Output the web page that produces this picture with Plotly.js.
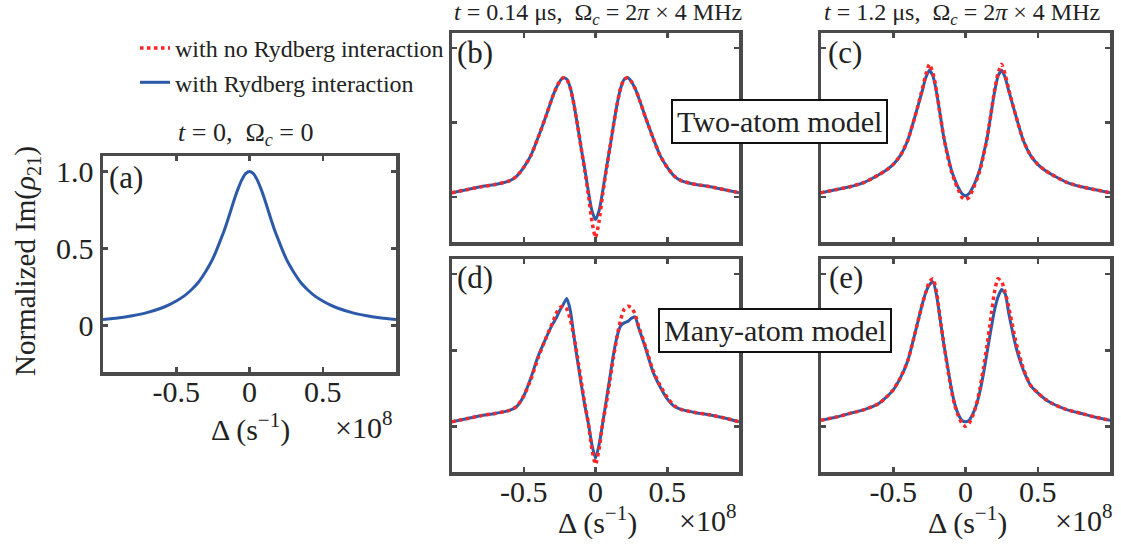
<!DOCTYPE html>
<html>
<head>
<meta charset="utf-8">
<script src="https://cdn.plot.ly/plotly-3.0.1.min.js"></script>
<style>html,body{margin:0;padding:0;background:#fff;}</style>
</head>
<body>
<div id="chart" style="width:1121px;height:544px;"></div>
<script>
// ---- data (detuning in units of 1e8 s^-1) ----
const delta = [-1,-0.9,-0.8,-0.7,-0.6,-0.55,-0.5,-0.45,-0.4,-0.35,-0.3,-0.275,-0.25,-0.225,-0.2,-0.175,-0.15,-0.125,-0.1,-0.075,-0.05,-0.025,0,
               0.025,0.05,0.075,0.1,0.125,0.15,0.175,0.2,0.225,0.25,0.275,0.3,0.35,0.4,0.45,0.5,0.55,0.6,0.7,0.8,0.9,1];

// (a) t = 0, Omega_c = 0
const aBlue = [0.04,0.05,0.065,0.085,0.115,0.135,0.16,0.19,0.23,0.28,0.35,0.39,0.435,0.49,0.55,0.61,0.68,0.755,0.83,0.895,0.95,0.987,1.0,
               0.987,0.95,0.895,0.83,0.755,0.68,0.61,0.55,0.49,0.435,0.39,0.35,0.28,0.23,0.19,0.16,0.135,0.115,0.085,0.065,0.05,0.04];

// (b) two-atom, t = 0.14 us
const bBlue = [0.03,0.05,0.07,0.085,0.11,0.14,0.20,0.28,0.40,0.53,0.67,0.73,0.775,0.80,0.79,0.73,0.62,0.48,0.33,0.19,0.04,-0.09,-0.15,
               -0.09,0.04,0.19,0.33,0.48,0.62,0.73,0.79,0.80,0.775,0.73,0.67,0.53,0.40,0.28,0.20,0.14,0.11,0.085,0.07,0.05,0.03];
const bRed  = [0.03,0.05,0.07,0.085,0.11,0.14,0.20,0.28,0.40,0.53,0.67,0.73,0.775,0.80,0.79,0.73,0.62,0.48,0.33,0.18,0.02,-0.16,-0.27,
               -0.16,0.02,0.18,0.33,0.48,0.62,0.73,0.79,0.80,0.775,0.73,0.67,0.53,0.40,0.28,0.20,0.14,0.11,0.085,0.07,0.05,0.03];

// (c) two-atom, t = 1.2 us
const cBlue = [0.03,0.05,0.07,0.10,0.15,0.18,0.22,0.28,0.38,0.54,0.71,0.80,0.85,0.81,0.70,0.55,0.40,0.29,0.19,0.12,0.065,0.025,0.01,
               0.025,0.065,0.12,0.19,0.29,0.40,0.55,0.70,0.81,0.85,0.80,0.71,0.54,0.38,0.28,0.22,0.18,0.15,0.10,0.07,0.05,0.03];
const cRed  = [0.03,0.05,0.07,0.10,0.15,0.18,0.22,0.28,0.38,0.54,0.72,0.82,0.89,0.83,0.71,0.55,0.40,0.28,0.18,0.11,0.05,0.0,-0.015,
               0.0,0.05,0.11,0.18,0.28,0.40,0.55,0.71,0.83,0.89,0.82,0.72,0.54,0.38,0.28,0.22,0.18,0.15,0.10,0.07,0.05,0.03];

// (d) many-atom, t = 0.14 us
const dBlue = [0.03,0.05,0.07,0.085,0.105,0.13,0.20,0.32,0.46,0.57,0.67,0.71,0.76,0.80,0.84,0.76,0.59,0.43,0.28,0.14,0.02,-0.12,-0.21,
               -0.12,0.02,0.17,0.32,0.47,0.59,0.66,0.68,0.69,0.71,0.72,0.65,0.51,0.36,0.26,0.18,0.13,0.11,0.09,0.075,0.055,0.03];
const dRed  = [0.03,0.05,0.07,0.085,0.105,0.13,0.20,0.31,0.45,0.57,0.68,0.74,0.78,0.79,0.77,0.70,0.59,0.45,0.30,0.15,0.02,-0.15,-0.25,
               -0.15,0.02,0.15,0.30,0.45,0.59,0.70,0.77,0.79,0.78,0.74,0.66,0.52,0.37,0.27,0.19,0.135,0.11,0.09,0.075,0.055,0.03];

// (e) many-atom, t = 1.2 us
const eBlue = [0.04,0.06,0.085,0.11,0.15,0.19,0.24,0.32,0.43,0.61,0.80,0.88,0.93,0.95,0.86,0.70,0.54,0.40,0.26,0.15,0.08,0.04,0.03,
               0.04,0.08,0.14,0.23,0.35,0.49,0.63,0.76,0.85,0.90,0.87,0.74,0.52,0.37,0.27,0.22,0.18,0.15,0.11,0.085,0.06,0.04];
const eRed  = [0.04,0.06,0.085,0.11,0.15,0.19,0.24,0.32,0.43,0.61,0.80,0.88,0.95,0.97,0.88,0.71,0.54,0.39,0.25,0.14,0.07,0.02,0.0,
               0.02,0.07,0.14,0.25,0.39,0.54,0.71,0.88,0.97,0.95,0.88,0.78,0.55,0.38,0.27,0.22,0.18,0.15,0.11,0.085,0.06,0.04];

const xTickVals = [-0.5, 0, 0.5];
const xTickText = ['-0.5', '0', '0.5'];
const yTickVals = [0, 0.5, 1];
const yTickText = ['0', '0.5', '1.0'];
const legendNames = ['with no Rydberg interaction', 'with Rydberg interaction'];

// ---- styling ----
const W = 1121, H = 544;
const FONT = '"Liberation Serif", "Times New Roman", serif';
const BLUE = '#2c5aa8', RED = '#ff2626', FRAME = '#4a4a4a';
const px = v => v / W, py = v => 1 - v / H;

function blue(y, xa, ya, legend) {
  return {x: delta, y: y, xaxis: xa, yaxis: ya, type: 'scatter', mode: 'lines',
    line: {color: BLUE, width: 3, shape: 'spline', smoothing: 0.6},
    name: legendNames[1], showlegend: !!legend, legendrank: 2, hoverinfo: 'skip'};
}
function red(y, xa, ya, legend) {
  return {x: delta, y: y, xaxis: xa, yaxis: ya, type: 'scatter', mode: 'lines',
    line: {color: RED, width: 3.5, dash: 'dot', shape: 'spline', smoothing: 0.6},
    name: legendNames[0], showlegend: !!legend, legendrank: 1, hoverinfo: 'skip'};
}

const data = [
  blue(aBlue, 'x', 'y'),
  blue(bBlue, 'x2', 'y2', true), red(bRed, 'x2', 'y2', true),
  blue(cBlue, 'x3', 'y3'), red(cRed, 'x3', 'y3'),
  blue(dBlue, 'x4', 'y4'), red(dRed, 'x4', 'y4'),
  blue(eBlue, 'x5', 'y5'), red(eRed, 'x5', 'y5')
];

function xax(l, r, labels) {
  return {domain: [px(l), px(r)], range: [-1, 1], showgrid: false, zeroline: false,
    showline: true, linecolor: FRAME, linewidth: 3.5, mirror: 'ticks',
    ticks: 'inside', ticklen: 5, tickwidth: 2.5, tickcolor: FRAME,
    tickvals: xTickVals, ticktext: xTickText, showticklabels: labels,
    tickfont: {family: FONT, size: 30, color: '#222'}, ticklabelstandoff: -10, fixedrange: true};
}
function yax(t, b, labels) {
  return {domain: [py(b), py(t)], range: [-0.3, 1.1], showgrid: false, zeroline: false,
    showline: true, linecolor: FRAME, linewidth: 3.5, mirror: 'ticks',
    ticks: 'inside', ticklen: 5, tickwidth: 2.5, tickcolor: FRAME,
    tickvals: yTickVals, ticktext: yTickText, showticklabels: labels,
    tickfont: {family: FONT, size: 30, color: '#222'}, ticklabelstandoff: 0, fixedrange: true};
}

const ann = [];
function txt(text, x, y, size, extra) {
  ann.push(Object.assign({text: text, x: px(x), y: py(y), xref: 'paper', yref: 'paper',
    showarrow: false, xanchor: 'center', yanchor: 'middle',
    font: {family: FONT, size: size, color: '#222'}}, extra || {}));
}
// titles
txt('<i>t</i> = 0,  Ω<sub><i>c</i></sub> = 0', 245, 134, 26);
txt('<i>t</i> = 0.14 μs,  Ω<sub><i>c</i></sub> = 2<i>π</i> × 4 MHz', 598, 14, 24);
txt('<i>t</i> = 1.2 μs,  Ω<sub><i>c</i></sub> = 2<i>π</i> × 4 MHz', 962, 14, 24);
// panel labels
txt('(a)', 126, 178, 31);
txt('(b)', 475, 52, 31);
txt('(c)', 845, 52, 31);
txt('(d)', 475, 277, 31);
txt('(e)', 846, 277, 31);
// axis labels
txt('Δ (s<sup>−1</sup>)', 250, 427, 30);
txt('×10<sup>8</sup>', 363, 425, 30);
txt('Δ (s<sup>−1</sup>)', 598, 520, 30);
txt('×10<sup>8</sup>', 707, 518, 30);
txt('Δ (s<sup>−1</sup>)', 967, 520, 30);
txt('×10<sup>8</sup>', 1083, 518, 30);
txt('Normalized Im(<i>ρ</i><sub>21</sub>)', 27, 261, 29, {textangle: -90});
// model boxes
txt('Two-atom model', 779, 122, 30, {bgcolor: '#fff', bordercolor: '#111', borderwidth: 2, borderpad: 4});
txt('Many-atom model', 775, 330, 30, {bgcolor: '#fff', bordercolor: '#111', borderwidth: 2, borderpad: 4});

const layout = {
  width: W, height: H, margin: {l: 0, r: 0, t: 0, b: 0},
  paper_bgcolor: '#fff', plot_bgcolor: '#fff',
  font: {family: FONT, color: '#222'},
  showlegend: true,
  legend: {x: px(135), y: py(26), xanchor: 'left', yanchor: 'top', bgcolor: 'rgba(0,0,0,0)',
    font: {family: FONT, size: 24, color: '#222'}, tracegroupgap: 0, itemwidth: 30},
  xaxis: xax(103, 396, true), yaxis: yax(156, 372, true),
  xaxis2: xax(452, 739, false), yaxis2: yax(33, 242, false),
  xaxis3: xax(821, 1110, false), yaxis3: yax(33, 242, false),
  xaxis4: xax(452, 739, true), yaxis4: yax(259, 472, false),
  xaxis5: xax(821, 1110, true), yaxis5: yax(259, 472, false),
  annotations: ann
};
layout.yaxis.anchor = 'x';
layout.yaxis2.anchor = 'x2'; layout.xaxis2.anchor = 'y2';
layout.yaxis3.anchor = 'x3'; layout.xaxis3.anchor = 'y3';
layout.yaxis4.anchor = 'x4'; layout.xaxis4.anchor = 'y4';
layout.yaxis5.anchor = 'x5'; layout.xaxis5.anchor = 'y5';
layout.xaxis.anchor = 'y';

Plotly.newPlot('chart', data, layout, {staticPlot: true, displayModeBar: false});
</script>
</body>
</html>
